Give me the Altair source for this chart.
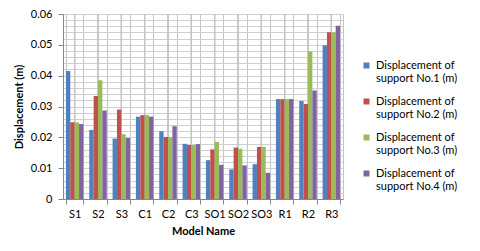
import altair as alt
import pandas as pd

models = ["S1", "S2", "S3", "C1", "C2", "C3", "SO1", "SO2", "SO3", "R1", "R2", "R3"]
series = [
    "Displacement of support No.1 (m)",
    "Displacement of support No.2 (m)",
    "Displacement of support No.3 (m)",
    "Displacement of support No.4 (m)",
]
support1 = [0.0415, 0.0224, 0.0196, 0.0267, 0.0220, 0.0179, 0.0126, 0.0096, 0.0113, 0.0324, 0.0318, 0.0499]
support2 = [0.0249, 0.0334, 0.0290, 0.0272, 0.0201, 0.0175, 0.0161, 0.0167, 0.0169, 0.0324, 0.0308, 0.0541]
support3 = [0.0248, 0.0385, 0.0210, 0.0272, 0.0201, 0.0175, 0.0185, 0.0163, 0.0169, 0.0324, 0.0478, 0.0541]
support4 = [0.0243, 0.0287, 0.0198, 0.0267, 0.0236, 0.0178, 0.0111, 0.0109, 0.0085, 0.0324, 0.0352, 0.0562]
colors = ["#4F81BD", "#C0504D", "#9BBB59", "#8064A2"]
y_ticks = [round(i * 0.002, 3) for i in range(31)]

rows = []
for s, vals in zip(series, [support1, support2, support3, support4]):
    for m, v in zip(models, vals):
        rows.append({"Model": m, "Series": s, "Value": v})
df = pd.DataFrame(rows)

FONT = "Lato"
GRID = "#C4C4C4"
major = "abs(datum.value*100 - round(datum.value*100)) < 1e-6"

x_enc = alt.X(
    "Model:N", sort=models, title="Model Name",
    scale=alt.Scale(paddingInner=0.25, paddingOuter=0.125),
    axis=alt.Axis(labelAngle=0, tickBand="extent", grid=True, gridColor=GRID,
                  domainColor="#868686", tickColor="#868686", tickSize=5,
                  labelPadding=4, titlePadding=6, labelFontSize=11,
                  titleFontSize=11, titleFontWeight="bold", labelColor="#000",
                  titleColor="#000"),
)

gridrule = alt.Chart(df).mark_rule(color=GRID, strokeWidth=1).encode(x=x_enc)

bars = alt.Chart(df).mark_bar().encode(
    x=x_enc,
    xOffset=alt.XOffset("Series:N", sort=series),
    y=alt.Y("Value:Q", title="Displacement (m)",
            scale=alt.Scale(domain=[0, 0.06], nice=False),
            axis=alt.Axis(values=y_ticks, grid=True, gridColor="#D0D0D0", gridOpacity=1,
                          labelExpr=f"({major}) ? format(datum.value, '.2~f') : ''",
                          labelOverlap=False,
                          tickColor={"condition": {"test": major, "value": "#868686"}, "value": "transparent"},
                          tickSize=5, labelPadding=6, domainColor="#868686",
                          labelFontSize=11, titleFontSize=11, titleFontWeight="bold",
                          titlePadding=6, labelColor="#000", titleColor="#000")),
    color=alt.Color("Series:N", sort=series,
                    scale=alt.Scale(domain=series, range=colors),
                    legend=alt.Legend(title=None, orient="none", legendX=298, legendY=46,
                                      symbolType="square", symbolSize=36,
                                      symbolStrokeWidth=0,
                                      labelFontSize=11, labelColor="#000",
                                      labelExpr="[slice(datum.label, 0, 15), slice(datum.label, 16)]",
                                      rowPadding=11, labelOffset=4)),
)

chart = alt.layer(gridrule, bars).properties(
    width=280, height=185,
    autosize=alt.AutoSizeParams(type="none"),
    padding={"left": 55, "top": 6, "right": 129, "bottom": 44},
).configure(font=FONT).configure_view(stroke=GRID)

chart.save("out.html", embed_options={"renderer": "svg", "actions": False})
